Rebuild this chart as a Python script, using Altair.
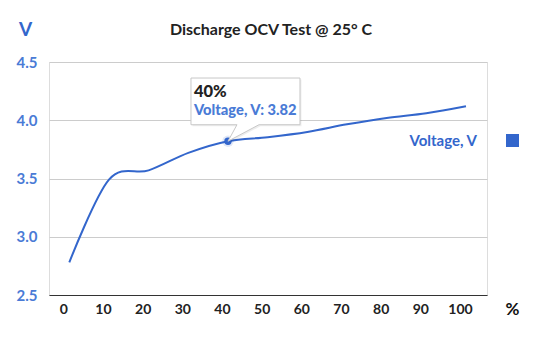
import altair as alt
import pandas as pd

# ---- data ----
soc = [0, 10, 20, 30, 40, 50, 60, 70, 80, 90, 100]
voltage = [2.78, 3.49, 3.57, 3.72, 3.82, 3.855, 3.90, 3.965, 4.02, 4.06, 4.12]
series_name = "Voltage, V"
highlight_soc = 40
x_ticks = [0, 10, 20, 30, 40, 50, 60, 70, 80, 90, 100]
y_ticks = [2.5, 3.0, 3.5, 4.0, 4.5]
title_text = "Discharge OCV Test @ 25° C"

df = pd.DataFrame({"soc": soc, "v": voltage, "series": [series_name] * len(soc)})
hi = df[df["soc"] == highlight_soc].copy()
hi["head"] = hi["soc"].astype(str) + "%"
hi["body"] = hi["series"] + ": " + hi["v"].map(lambda v: f"{v:.2f}")

FONT = "Lato"
LINE = "#3366cc"
YLAB = "#4a7bd6"
DARK = "#222222"

xscale = alt.Scale(domain=[-5.12, 105.3], nice=False, zero=False)
yscale = alt.Scale(domain=[2.5, 4.5], nice=False, zero=False)

xenc = alt.X("soc:Q", scale=xscale, axis=alt.Axis(
    values=x_ticks, title="%", grid=False, ticks=False,
    domainColor="#333333", domainWidth=1.2,
    labelFont=FONT, labelFontSize=14, labelFontWeight="bold", labelColor=DARK,
    labelPadding=7, labelOffset={"expr": "-6"}, labelFlush=False, labelOverlap=False,
    titleFont=FONT, titleFontSize=17, titleFontWeight="bold", titleColor="#111111",
    titleAngle=0, titleX=463, titleY=19, titleAlign="center", titleBaseline="alphabetic"))
yenc = alt.Y("v:Q", scale=yscale, axis=alt.Axis(
    values=y_ticks, format=".1f", title="V", grid=True, gridColor="#cccccc",
    domain=False, ticks=False,
    labelFont=FONT, labelFontSize=15, labelFontWeight="bold", labelColor=YLAB,
    labelPadding=12, labelFlush=False, labelOverlap=False,
    titleFont=FONT, titleFontSize=19, titleFontWeight="bold", titleColor=LINE,
    titleAngle=0, titleX=-24, titleY=-27, titleAlign="center", titleBaseline="alphabetic"))

line = alt.Chart(df).mark_line(interpolate="cardinal", strokeWidth=2).encode(
    x=xenc, y=yenc,
    color=alt.Color("series:N", scale=alt.Scale(range=[LINE]), legend=alt.Legend(
        title=None, orient="none", legendX=456, legendY=71, padding=0,
        symbolType="square", symbolSize=169, symbolStrokeWidth=0, symbolOpacity=1,
        symbolFillColor=LINE, symbolStrokeColor=LINE,
        labelFont=FONT, labelFontSize=15, labelFontWeight="bold", labelColor=LINE,
        labelAlign="right", labelOffset={"expr": "-43"})))

box_path = "M -0.37 -0.632 H 0.72 V -0.165 H 0.31 L 0 0 L 0.09 -0.165 H -0.37 Z"
shadow = alt.Chart(hi).mark_point(shape=box_path, size=40000, filled=True, fill="#000000",
                                  fillOpacity=0.07, strokeWidth=0, xOffset=1.5, yOffset=1.5).encode(
    x=alt.X("soc:Q", scale=xscale), y=alt.Y("v:Q", scale=yscale))
box = alt.Chart(hi).mark_point(shape=box_path, size=40000, filled=True, fill="white",
                               fillOpacity=1, stroke="#c8c8c8", strokeWidth=1, opacity=1).encode(
    x=alt.X("soc:Q", scale=xscale), y=alt.Y("v:Q", scale=yscale))
head = alt.Chart(hi).mark_text(align="left", baseline="alphabetic", dx=-34, dy=-44,
                               font=FONT, fontSize=16.5, fontWeight=900, color=DARK).encode(
    x=alt.X("soc:Q", scale=xscale), y=alt.Y("v:Q", scale=yscale), text="head:N")
body = alt.Chart(hi).mark_text(align="left", baseline="alphabetic", dx=-34, dy=-26,
                               font=FONT, fontSize=14.7, fontWeight=900, color=YLAB).encode(
    x=alt.X("soc:Q", scale=xscale), y=alt.Y("v:Q", scale=yscale), text="body:N")
halo = alt.Chart(hi).mark_circle(size=130, color=LINE, opacity=0.15).encode(
    x=alt.X("soc:Q", scale=xscale), y=alt.Y("v:Q", scale=yscale))
dot = alt.Chart(hi).mark_circle(size=55, color=LINE, opacity=1).encode(
    x=alt.X("soc:Q", scale=xscale), y=alt.Y("v:Q", scale=yscale))

chart = alt.layer(line, halo, dot, shadow, box, head, body).properties(
    width=438, height=233,
    title=alt.TitleParams(title_text, font=FONT, fontSize=16, fontWeight="bold",
                          color=DARK, anchor="middle", dx=3, dy=22),
    autosize=alt.AutoSizeParams(type="none"),
    padding={"left": 49, "top": 62, "right": 53, "bottom": 55},
).configure_view(stroke=None).configure(background="white")

chart.save("out.html", embed_options={"renderer": "svg", "actions": False})
